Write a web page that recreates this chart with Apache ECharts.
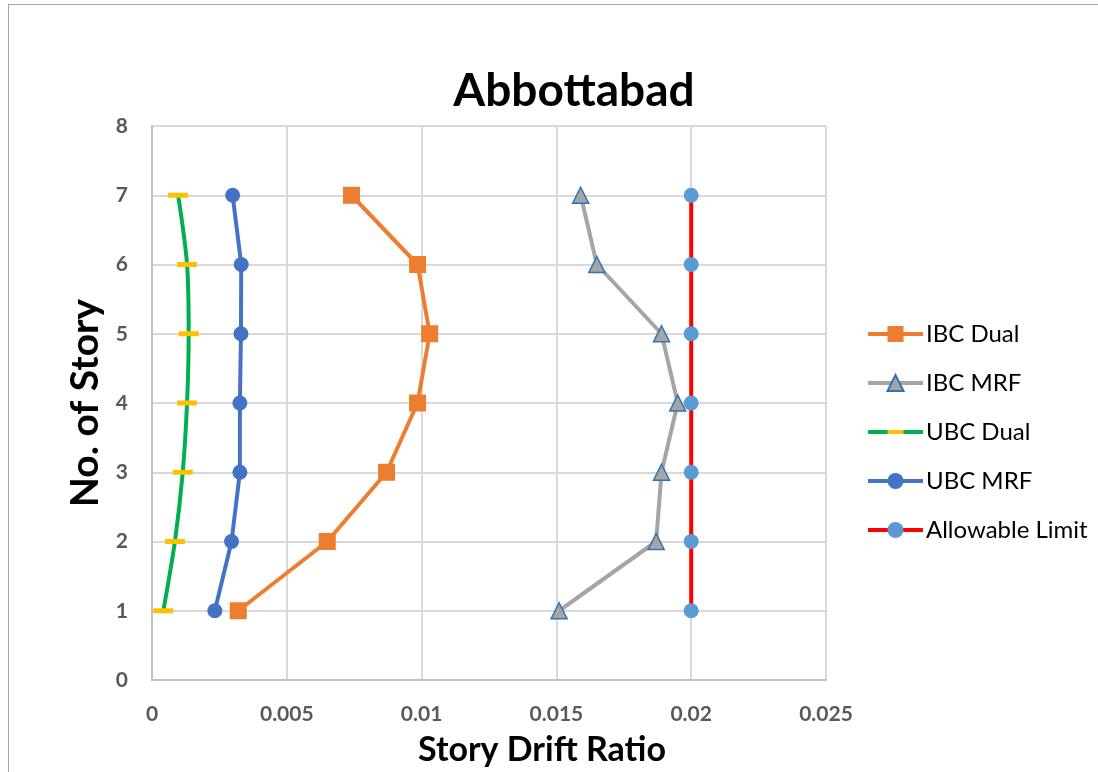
<!DOCTYPE html>
<html>
<head>
<meta charset="utf-8">
<title>Abbottabad</title>
<script src="https://cdn.jsdelivr.net/npm/echarts@6/dist/echarts.min.js"></script>
<style>
  html, body { margin: 0; padding: 0; background: #fff; overflow: hidden; }
  #frame { position: absolute; left: 8px; top: 4px; width: 1200px; height: 900px;
           border: 1px solid #a6a6a6; box-sizing: border-box; }
  #chart { position: absolute; left: 0; top: 0; width: 1098px; height: 772px; }
</style>
</head>
<body>
<div id="frame"></div>
<div id="chart"></div>
<script>
// Story levels and drift ratios per structural system
const stories = [1, 2, 3, 4, 5, 6, 7];
const ibcDual = [0.0032, 0.0065, 0.0087, 0.00985, 0.0103, 0.00985, 0.0074];
const ibcMrf = [0.0151, 0.0187, 0.0189, 0.0195, 0.0189, 0.0165, 0.0159];
const ubcDual = [0.00042, 0.00085, 0.00114, 0.0013, 0.00136, 0.0013, 0.00097];
const ubcMrf = [0.00233, 0.00295, 0.00326, 0.00326, 0.0033, 0.00331, 0.00299];
const allowable = [0.02, 0.02, 0.02, 0.02, 0.02, 0.02, 0.02];

const xTicks = [0, 0.005, 0.01, 0.015, 0.02, 0.025];
const yTicks = [0, 1, 2, 3, 4, 5, 6, 7, 8];

const FONT = 'Lato';
const pairs = vals => vals.map((v, i) => [v, stories[i]]);

// flat dash marker inside a square box (the extra moves pad the bounds),
// so it stays a flat dash both on the line and in the legend
const DASH = 'path://M0,-15M0,0H40V10H0ZM40,25';

const chart = echarts.init(document.getElementById('chart'), null, { renderer: 'canvas' });

chart.setOption({
  backgroundColor: 'transparent',
  animation: false,
  title: {
    text: 'Abbottabad',
    left: 569, top: 63, textAlign: 'center',
    textStyle: { fontFamily: FONT, fontWeight: 'bold', fontSize: 46, color: '#000' }
  },
  legend: {
    orient: 'vertical',
    left: 866, top: 322, padding: 0,
    itemWidth: 55, itemHeight: 20, itemGap: 25,
    lineStyle: { width: 4 },
    textStyle: { fontFamily: FONT, fontSize: 24, color: '#000', padding: [0, 0, 0, -2] },
    data: ['IBC Dual', 'IBC MRF', 'UBC Dual', 'UBC MRF', 'Allowable Limit']
  },
  grid: { left: 152, right: 272, top: 126, bottom: 92, containLabel: false },
  graphic: [
    {
      type: 'text', x: 85, y: 403, rotation: Math.PI / 2,
      style: { text: 'No. of Story', fontFamily: FONT, fontWeight: 'bold', fontSize: 39,
               fill: '#000', align: 'center', verticalAlign: 'middle' }
    },
    {
      type: 'text', x: 542, y: 750,
      style: { text: 'Story Drift Ratio', fontFamily: FONT, fontWeight: 'bold', fontSize: 34,
               fill: '#000', align: 'center', verticalAlign: 'middle' }
    }
  ],
  xAxis: {
    type: 'value', min: 0, max: 0.025, interval: 0.005,
    axisLine: { show: true, lineStyle: { color: '#bfbfbf', width: 2 } },
    axisTick: { show: false },
    axisLabel: {
      margin: 24, fontFamily: FONT, fontWeight: 'bold', fontSize: 21, color: '#595959',
      formatter: v => { const t = xTicks.find(k => Math.abs(k - v) < 1e-9); return String(t !== undefined ? t : v); }
    },
    splitLine: { show: true, lineStyle: { color: '#d9d9d9', width: 2 } }
  },
  yAxis: {
    type: 'value', min: 0, max: 8, interval: 1,
    axisLine: { show: true, lineStyle: { color: '#bfbfbf', width: 2 } },
    axisTick: { show: false },
    axisLabel: {
      margin: 24, fontFamily: FONT, fontWeight: 'bold', fontSize: 21, color: '#595959',
      formatter: v => String(yTicks.includes(v) ? v : '')
    },
    splitLine: { show: true, lineStyle: { color: '#d9d9d9', width: 2 } }
  },
  series: [
    {
      name: 'IBC Dual', type: 'line', data: pairs(ibcDual),
      symbol: 'rect', symbolSize: 17,
      lineStyle: { color: '#ed7d31', width: 4 },
      itemStyle: { color: '#ed7d31' }
    },
    {
      name: 'IBC MRF', type: 'line', data: pairs(ibcMrf),
      symbol: 'triangle', symbolSize: 16,
      lineStyle: { color: '#a5a5a5', width: 4 },
      itemStyle: { color: '#a5a5a5', borderColor: '#2e75b6', borderWidth: 1.5 }
    },
    {
      name: 'UBC Dual', type: 'line', data: pairs(ubcDual), smooth: 0.3,
      symbol: DASH, symbolSize: 20,
      lineStyle: { color: '#00b050', width: 4 },
      itemStyle: { color: '#ffc000' }
    },
    {
      name: 'UBC MRF', type: 'line', data: pairs(ubcMrf),
      symbol: 'circle', symbolSize: 15,
      lineStyle: { color: '#4472c4', width: 4 },
      itemStyle: { color: '#4472c4' }
    },
    {
      name: 'Allowable Limit', type: 'line', data: pairs(allowable),
      symbol: 'circle', symbolSize: 15,
      lineStyle: { color: '#ff0000', width: 4 },
      itemStyle: { color: '#5b9bd5' }
    }
  ]
});
</script>
</body>
</html>
